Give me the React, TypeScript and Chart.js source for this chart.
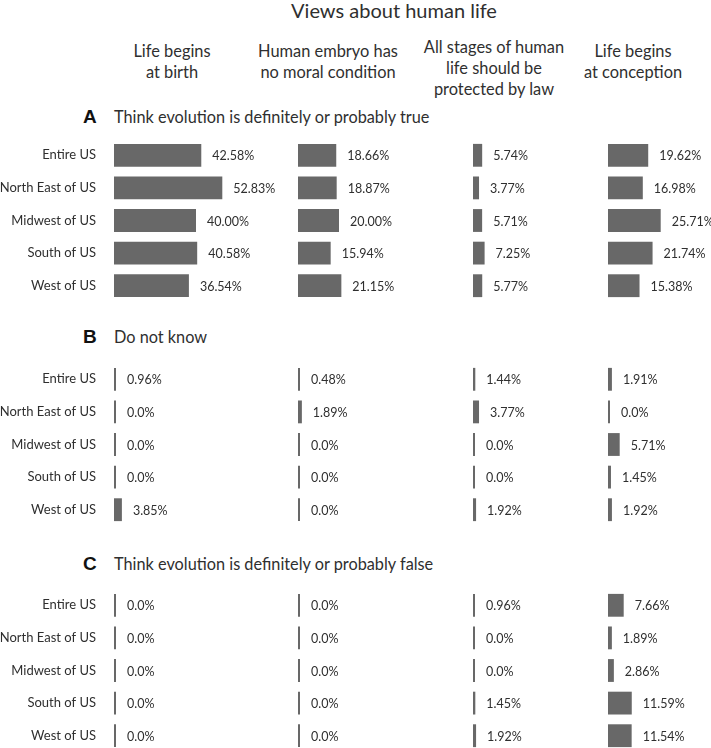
import React, { useEffect, useRef } from "react";
import { Chart, registerables } from "chart.js";

Chart.register(...registerables);

// ---------- data ----------
const regions = ["Entire US", "North East of US", "Midwest of US", "South of US", "West of US"];

const chartTitle = "Views about human life";
const columnTitles = [
  ["Life begins", "at birth"],
  ["Human embryo has", "no moral condition"],
  ["All stages of human", "life should be", "protected by law"],
  ["Life begins", "at conception"],
];
const sectionLetters = ["A", "B", "C"];
const sectionTitles = [
  "Think evolution is definitely or probably true",
  "Do not know",
  "Think evolution is definitely or probably false",
];

// A: think evolution is true
const trueBirth = [42.58, 52.83, 40.0, 40.58, 36.54];
const trueEmbryo = [18.66, 18.87, 20.0, 15.94, 21.15];
const trueProtect = [5.74, 3.77, 5.71, 7.25, 5.77];
const trueConception = [19.62, 16.98, 25.71, 21.74, 15.38];
// B: do not know
const unsureBirth = [0.96, 0.0, 0.0, 0.0, 3.85];
const unsureEmbryo = [0.48, 1.89, 0.0, 0.0, 0.0];
const unsureProtect = [1.44, 3.77, 0.0, 0.0, 1.92];
const unsureConception = [1.91, 0.0, 5.71, 1.45, 1.92];
// C: think evolution is false
const falseBirth = [0.0, 0.0, 0.0, 0.0, 0.0];
const falseEmbryo = [0.0, 0.0, 0.0, 0.0, 0.0];
const falseProtect = [0.96, 0.0, 0.0, 1.45, 1.92];
const falseConception = [7.66, 1.89, 2.86, 11.59, 11.54];

const sections = [
  [trueBirth, trueEmbryo, trueProtect, trueConception],
  [unsureBirth, unsureEmbryo, unsureProtect, unsureConception],
  [falseBirth, falseEmbryo, falseProtect, falseConception],
];

// ---------- layout / style ----------
const FONT = "Lato, 'Open Sans', sans-serif";
const BAR = "#686868";
const TEXT = "#2f2f2f";
const colLeft = [0, 298, 473, 608];
const axisW = [114, 0, 0, 0];
const areaW = [176, 170, 130, 103];
const pxPerPct = [2.05, 2.05, 1.6, 2.05];
const sectionTop = [139, 363, 589];
const panelH = 163;
const headerCenterX = [172, 328, 494, 633];
const headerTop = [40, 40, 36, 40];
const sectionHeadY = [117, 337, 564];

function fmt(v: number) {
  return v === 0 ? "0.0%" : v.toFixed(2) + "%";
}

const valueLabels = {
  id: "valueLabels",
  afterDatasetsDraw(chart: any) {
    const ctx = chart.ctx;
    const meta = chart.getDatasetMeta(0);
    const data = chart.data.datasets[0].data as number[];
    ctx.save();
    ctx.font = `12.5px ${FONT}`;
    ctx.fillStyle = TEXT;
    ctx.textAlign = "left";
    ctx.textBaseline = "middle";
    meta.data.forEach((el: any, i: number) => {
      const end = Math.max(el.x, el.base + 2);
      ctx.fillText(fmt(data[i]), end + 11, el.y + 1);
    });
    ctx.restore();
  },
};

function Panel({ values, col, top }: { values: number[]; col: number; top: number }) {
  const ref = useRef<HTMLCanvasElement | null>(null);
  const showAxis = axisW[col] > 0;
  const width = axisW[col] + areaW[col];
  useEffect(() => {
    if (!ref.current) return;
    const chart = new Chart(ref.current, {
      type: "bar",
      data: {
        labels: regions,
        datasets: [
          {
            data: values,
            backgroundColor: BAR,
            borderWidth: 0,
            barPercentage: 0.7,
            categoryPercentage: 1,
            minBarLength: 2,
          },
        ],
      },
      options: {
        indexAxis: "y",
        responsive: false,
        animation: false,
        devicePixelRatio: 1,
        layout: { padding: 0 },
        plugins: { legend: { display: false }, tooltip: { enabled: false }, title: { display: false } },
        scales: {
          x: {
            display: false,
            min: 0,
            max: areaW[col] / pxPerPct[col],
          },
          y: {
            display: showAxis,
            grid: { display: false, drawTicks: false },
            border: { display: false },
            ticks: {
              padding: 18,
              color: TEXT,
              font: { family: FONT, size: 13 },
            },
            afterFit: (scale: any) => {
              scale.width = axisW[col];
              scale.paddingTop = 0;
              scale.paddingBottom = 0;
            },
          },
        },
      },
      plugins: [valueLabels],
    });
    return () => chart.destroy();
  }, []);
  return (
    <canvas
      ref={ref}
      width={width}
      height={panelH}
      style={{ position: "absolute", left: colLeft[col], top, width, height: panelH }}
    />
  );
}

export default function App() {
  useEffect(() => {
    document.body.style.margin = "0";
  }, []);
  return (
    <div
      style={{
        position: "absolute",
        left: 0,
        top: 0,
        width: 711,
        height: 748,
        overflow: "hidden",
        background: "#fff",
        fontFamily: FONT,
        color: TEXT,
      }}
    >
      <div
        style={{
          position: "absolute",
          left: 394,
          top: -1,
          transform: "translateX(-50%)",
          whiteSpace: "nowrap",
          fontSize: 20,
          lineHeight: "22px",
        }}
      >
        {chartTitle}
      </div>
      {columnTitles.map((lines, c) => (
        <div
          key={"h" + c}
          style={{
            position: "absolute",
            left: headerCenterX[c],
            top: headerTop[c],
            transform: "translateX(-50%)",
            whiteSpace: "nowrap",
            textAlign: "center",
            fontSize: 16.4,
            lineHeight: "21px",
          }}
        >
          {lines.map((l, i) => (
            <div key={i}>{l}</div>
          ))}
        </div>
      ))}
      {sectionLetters.map((letter, s) => (
        <React.Fragment key={"s" + s}>
          <div
            style={{
              position: "absolute",
              left: 83,
              top: sectionHeadY[s] - 11,
              fontFamily: "'Liberation Sans', Arial, sans-serif",
              fontWeight: "bold",
              fontSize: 19,
              lineHeight: "22px",
              color: "#111",
            }}
          >
            {letter}
          </div>
          <div
            style={{
              position: "absolute",
              left: 114,
              top: sectionHeadY[s] - 11,
              fontSize: 16.3,
              lineHeight: "22px",
              whiteSpace: "nowrap",
            }}
          >
            {sectionTitles[s]}
          </div>
        </React.Fragment>
      ))}
      {sections.map((cols, s) =>
        cols.map((vals, c) => <Panel key={s + "-" + c} values={vals} col={c} top={sectionTop[s]} />)
      )}
    </div>
  );
}
